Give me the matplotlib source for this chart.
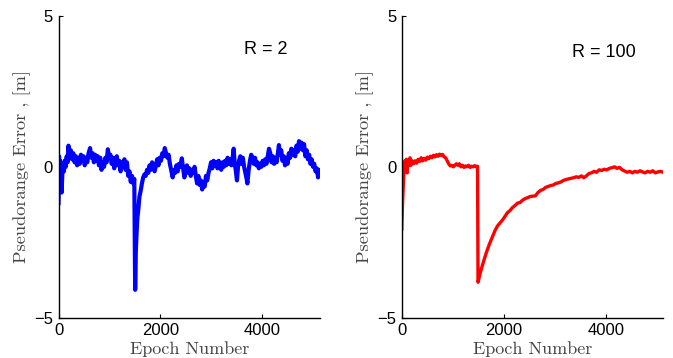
"""Pseudorange error vs epoch for two measurement-noise settings (R = 2 and R = 100)."""
import matplotlib
matplotlib.use("Agg")
import matplotlib.pyplot as plt

# --- R = 2 (blue, noisy) : epoch / error [m] ---
epoch_r2 = [0, 10, 20, 30, 45, 60, 75, 90, 105, 120, 140, 160, 180, 195, 215, 240, 265, 290, 315, 340,
            365, 390, 415, 440, 465, 490, 515, 540, 565, 590, 620, 645, 670, 695, 720, 745, 770, 795, 820, 845,
            870, 895, 920, 945, 970, 995, 1020, 1045, 1070, 1095, 1120, 1145, 1170, 1195, 1220, 1245, 1270, 1295,
            1320, 1345, 1370, 1395, 1420, 1445, 1470, 1490, 1500, 1507, 1520, 1535, 1550, 1570, 1590, 1615, 1640,
            1665, 1690, 1715, 1740, 1765, 1790, 1815, 1840, 1865, 1890, 1915, 1940, 1965, 1990, 2015, 2040, 2065,
            2090, 2115, 2140, 2165, 2190, 2215, 2245, 2270, 2295, 2320, 2345, 2370, 2395, 2425, 2450, 2475, 2500,
            2525, 2550, 2575, 2600, 2625, 2650, 2675, 2700, 2725, 2750, 2775, 2800, 2825, 2850, 2875, 2900, 2925,
            2950, 2975, 3000, 3025, 3050, 3075, 3100, 3125, 3150, 3175, 3200, 3225, 3250, 3275, 3300, 3325, 3350,
            3375, 3400, 3425, 3445, 3465, 3485, 3510, 3530, 3550, 3575, 3600, 3625, 3650, 3675, 3700, 3715, 3740,
            3765, 3790, 3815, 3840, 3865, 3890, 3915, 3940, 3965, 3990, 4015, 4040, 4065, 4090, 4115, 4140, 4165,
            4190, 4215, 4240, 4265, 4290, 4315, 4335, 4355, 4380, 4405, 4430, 4455, 4480, 4505, 4530, 4555, 4580,
            4605, 4630, 4655, 4680, 4705, 4730, 4755, 4780, 4805, 4830, 4855, 4880, 4905, 4930, 4955, 4980, 5005,
            5030, 5055, 5080, 5105, 5125, 5150]
err_r2 = [-1.2, 0.35, -0.6, 0.2, -0.3, -0.85, -0.2, 0.1, -0.15, 0.2, 0.0, 0.35, 0.15, 0.7, 0.35, 0.55, 0.25,
          0.45, 0.15, 0.35, 0.05, 0.3, 0.1, 0.4, 0.2, 0.35, 0.05, 0.3, 0.15, 0.45, 0.62, 0.3, 0.45, 0.15, 0.4,
          0.2, 0.35, 0.05, 0.3, -0.1, 0.15, 0.0, 0.3, 0.15, 0.58, 0.3, 0.4, 0.1, 0.3, -0.05, 0.2, 0.35, 0.05,
          0.2, -0.15, 0.15, 0.0, 0.25, -0.1, 0.15, -0.3, -0.15, -0.5, -0.3, -0.55, -0.4, -2.5, -4.07, -2.8,
          -2.2, -1.7, -1.4, -1.0, -0.8, -0.55, -0.35, -0.25, -0.3, -0.1, -0.2, 0.05, -0.1, 0.15, 0.0, -0.15,
          0.05, 0.25, 0.05, 0.3, 0.2, 0.45, 0.35, 0.62, 0.45, 0.3, 0.4, 0.1, -0.1, -0.35, -0.1, -0.2, 0.05,
          -0.15, 0.1, 0.0, 0.28, -0.05, -0.35, -0.1, 0.05, -0.2, -0.05, -0.3, -0.1, -0.2, 0.0, -0.3, -0.55,
          -0.3, -0.6, -0.45, -0.75, -0.5, -0.65, -0.3, -0.45, -0.2, -0.05, 0.15, -0.05, 0.2, 0.05, 0.15, -0.05,
          0.2, 0.05, -0.1, 0.15, 0.0, 0.2, 0.05, 0.3, 0.1, 0.25, 0.05, 0.3, 0.6, 0.1, -0.1, -0.45, 0.0, 0.2,
          0.35, 0.1, 0.3, 0.0, -0.2, -0.4, -0.55, -0.1, 0.2, 0.4, 0.3, 0.1, 0.3, 0.05, 0.15, -0.05, 0.1, 0.0,
          0.2, 0.05, 0.25, 0.1, 0.35, 0.6, 0.45, 0.15, 0.35, 0.1, 0.3, 0.15, 0.45, 0.72, 0.4, 0.55, 0.2, 0.35,
          0.05, 0.3, 0.1, 0.45, 0.3, 0.6, 0.4, 0.55, 0.35, 0.7, 0.5, 0.85, 0.6, 0.8, 0.55, 0.75, 0.35, 0.55,
          0.25, 0.4, 0.1, 0.25, 0.0, 0.1, -0.15, -0.05, -0.35, -0.1, -0.25]

# --- R = 100 (red, smooth) ---
epoch_r100 = [0, 15, 30, 45, 60, 75, 90, 105, 120, 140, 160, 180, 200, 230, 260, 290, 320, 350, 380, 410,
              440, 470, 500, 530, 560, 590, 620, 650, 680, 710, 740, 770, 800, 830, 860, 890, 920, 950, 980,
              1010, 1040, 1070, 1100, 1130, 1160, 1190, 1220, 1250, 1280, 1310, 1340, 1370, 1400, 1430, 1460,
              1485, 1495, 1540, 1600, 1660, 1720, 1780, 1830, 1880, 1930, 1980, 2020, 2070, 2120, 2170, 2220,
              2270, 2320, 2370, 2420, 2470, 2520, 2570, 2620, 2670, 2720, 2770, 2820, 2870, 2920, 2970, 3020,
              3070, 3120, 3170, 3220, 3270, 3320, 3370, 3420, 3470, 3520, 3570, 3620, 3670, 3720, 3770, 3820,
              3870, 3920, 3970, 4020, 4070, 4120, 4170, 4220, 4270, 4320, 4370, 4420, 4470, 4520, 4570, 4620,
              4670, 4720, 4770, 4820, 4870, 4920, 4970, 5020, 5070, 5110]
err_r100 = [-2.07, -1.2, -0.6, -0.1, 0.2, -0.1, 0.25, -0.2, 0.15, 0.05, 0.3, 0.05, 0.2, 0.1, 0.2, 0.12,
            0.25, 0.18, 0.3, 0.2, 0.28, 0.22, 0.32, 0.27, 0.35, 0.3, 0.38, 0.33, 0.4, 0.35, 0.42, 0.38, 0.41,
            0.33, 0.3, 0.2, 0.1, 0.03, 0.05, 0.0, 0.05, 0.1, 0.05, 0.1, 0.0, 0.05, -0.02, 0.03, 0.0, 0.05,
            -0.02, 0.02, 0.0, 0.04, 0.0, 0.02, -3.82, -3.5, -3.15, -2.83, -2.55, -2.3, -2.1, -1.95, -1.85,
            -1.75, -1.65, -1.52, -1.45, -1.35, -1.28, -1.2, -1.18, -1.1, -1.05, -1.02, -0.98, -0.97, -0.96,
            -0.85, -0.78, -0.75, -0.68, -0.65, -0.62, -0.6, -0.55, -0.53, -0.5, -0.45, -0.42, -0.4, -0.38,
            -0.36, -0.33, -0.35, -0.3, -0.36, -0.3, -0.22, -0.2, -0.15, -0.18, -0.1, -0.12, -0.08, -0.1,
            -0.05, -0.03, 0.0, -0.05, -0.02, -0.1, -0.14, -0.18, -0.15, -0.2, -0.15, -0.18, -0.13, -0.17,
            -0.2, -0.15, -0.18, -0.13, -0.2, -0.17, -0.15, -0.17]

xticks = [0, 2000, 4000]
yticks = [-5, 0, 5]

panels = [
    (epoch_r2, err_r2, "#0000ff", 3.0, "R = 2", [0.087, 0.112, 0.389, 0.844], 5150, (0.71, 0.887)),
    (epoch_r100, err_r100, "#ff0000", 2.4, "R = 100", [0.597, 0.112, 0.388, 0.844], 5120, (0.65, 0.88)),
]

fig = plt.figure(figsize=(6.73, 3.58), dpi=100)
for x, y, color, lw, tag, rect, xmax, tpos in panels:
    ax = fig.add_axes(rect)
    ax.plot(x, y, color=color, lw=lw)
    ax.set_xlim(0, xmax)
    ax.set_ylim(-5, 5)
    ax.set_xticks(xticks)
    ax.set_yticks(yticks)
    ax.spines["top"].set_visible(False)
    ax.spines["right"].set_visible(False)
    for s in ("left", "bottom"):
        ax.spines[s].set_linewidth(1.0)
    ax.tick_params(direction="in", length=3, width=0.8, labelsize=12, pad=4)
    for lab in ax.get_xticklabels() + ax.get_yticklabels():
        lab.set_family("Liberation Sans")
    ax.set_ylabel("Pseudorange Error , [m]", family="cmr10", fontsize=13.2, color="#444444")
    ax.yaxis.set_label_coords(-0.105, 0.5)
    ax.set_xlabel("Epoch Number", family="cmr10", fontsize=13, color="#444444")
    ax.xaxis.set_label_coords(0.5, -0.076)
    ax.text(tpos[0], tpos[1], tag, transform=ax.transAxes, fontsize=13,
            family="Liberation Sans", ha="left", va="center")

fig.savefig("out.png", dpi=100)
